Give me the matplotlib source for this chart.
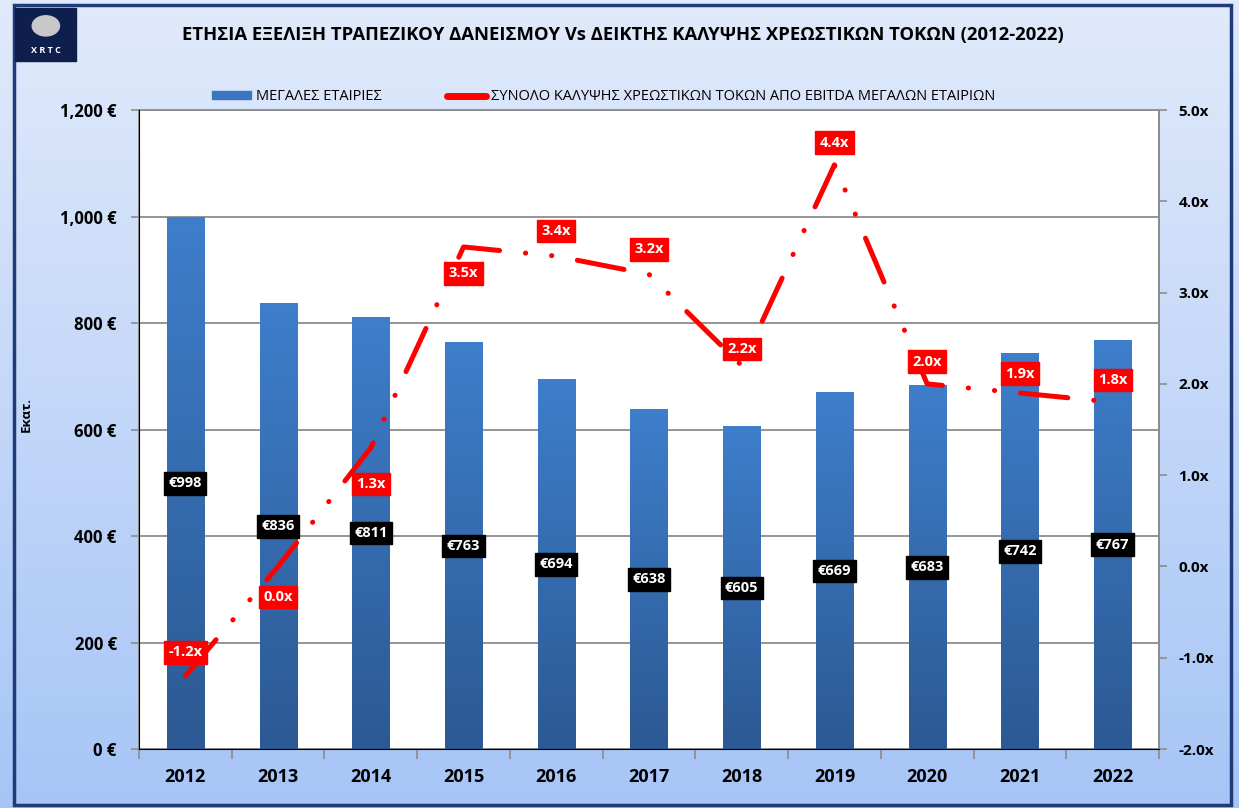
import matplotlib.pyplot as plt
import numpy as np
from matplotlib.colors import LinearSegmentedColormap
from matplotlib.patches import Rectangle, Ellipse
from matplotlib.lines import Line2D
from matplotlib.ticker import FuncFormatter, FixedLocator

plt.rcParams['font.family'] = ['Open Sans', 'DejaVu Sans']

# Data
years = ['2012', '2013', '2014', '2015', '2016', '2017', '2018', '2019', '2020', '2021', '2022']
loans = [998, 836, 811, 763, 694, 638, 605, 669, 683, 742, 767]          # million EUR
coverage = [-1.2, 0.0, 1.3, 3.5, 3.4, 3.2, 2.2, 4.4, 2.0, 1.9, 1.8]      # interest coverage (x)

title = 'ΕΤΗΣΙΑ ΕΞΕΛΙΞΗ ΤΡΑΠΕΖΙΚΟΥ ΔΑΝΕΙΣΜΟΥ Vs ΔΕΙΚΤΗΣ ΚΑΛΥΨΗΣ ΧΡΕΩΣΤΙΚΩΝ ΤΟΚΩΝ (2012-2022)'
bar_name = 'ΜΕΓΑΛΕΣ ΕΤΑΙΡΙΕΣ'
line_name = 'ΣΥΝΟΛΟ ΚΑΛΥΨΗΣ ΧΡΕΩΣΤΙΚΩΝ ΤΟΚΩΝ ΑΠΟ EBITDA ΜΕΓΑΛΩΝ ΕΤΑΙΡΙΩΝ'

# label offsets (points) for the red boxes
label_dy = [17, -22, -26, -19, 18, 18, 12, 16, 16, 14, 16]

fig = plt.figure(figsize=(12.39, 8.08), dpi=100)

# background gradient
bg = fig.add_axes([0, 0, 1, 1], zorder=-10)
bg_cmap = LinearSegmentedColormap.from_list('bg', ['#e1eafb', '#a6c5f6'])
bg.imshow(np.linspace(0, 1, 256).reshape(-1, 1), cmap=bg_cmap, aspect='auto',
          extent=[0, 1, 0, 1], origin='upper')
bg.set_xlim(0, 1)
bg.set_ylim(0, 1)
bg.axis('off')
bg.add_patch(Rectangle((0.0115, 0.004), 0.982, 0.99, fill=False, edgecolor='#1f3b7a', linewidth=2.5))

# logo
bg.add_patch(Rectangle((0.0125, 0.924), 0.049, 0.066, color='#0f1f4d'))
bg.add_patch(Ellipse((0.037, 0.968), 0.022, 0.025, color='#c8c8c8'))
bg.text(0.037, 0.938, 'X R T C', color='white', fontsize=6.5, fontweight='bold', ha='center', va='center')

ax = fig.add_axes([0.1122, 0.0730, 0.8232, 0.7908])
ax2 = ax.twinx()
ax2.set_zorder(ax.get_zorder() + 1)
ax2.patch.set_visible(False)

x = np.arange(len(years))
w = 0.4
bars = ax.bar(x, loans, width=w, color='#3a75c0', zorder=2)

# bar gradient
bar_cmap = LinearSegmentedColormap.from_list('bar', ['#2c5993', '#3e7ecb'])
grad = np.linspace(0, 1, 256).reshape(-1, 1)
for xi, v in zip(x, loans):
    ax.imshow(grad, cmap=bar_cmap, aspect='auto', origin='lower',
              extent=[xi - w / 2, xi + w / 2, 0, v], zorder=3)

ax.set_xlim(-0.5, len(years) - 0.5)
ax.set_ylim(0, 1200)
ax.set_yticks(range(0, 1201, 200))
ax.yaxis.set_major_formatter(FuncFormatter(lambda v, p: f'{int(v):,} €'))
ax.grid(axis='y', color='#8c8c8c', linewidth=1.3, zorder=0)
ax.set_axisbelow(True)
ax.set_xticks(x)
ax.set_xticklabels(years, fontsize=13, fontweight='bold')
ax.xaxis.set_minor_locator(FixedLocator(np.arange(-0.5, len(years), 1)))
ax.tick_params(axis='x', which='major', length=0, pad=14)
ax.tick_params(axis='x', which='minor', length=7, color='#8c8c8c', width=1.2)
ax.tick_params(axis='y', length=6, color='#8c8c8c', width=1.2, pad=10)
for lbl in ax.get_yticklabels():
    lbl.set_fontsize(12)
    lbl.set_fontweight('bold')
ax.set_ylabel('Εκατ.', fontsize=9.5, fontweight='bold')
ax.yaxis.set_label_coords(-0.104, 0.523)
for s in ['left', 'right', 'bottom', 'top']:
    ax.spines[s].set_color('#8c8c8c')
    ax.spines[s].set_linewidth(1.3)
ax2.spines['top'].set_visible(False)
ax2.spines['right'].set_color('#8c8c8c')
ax2.spines['right'].set_linewidth(1.3)

# coverage line
ax2.plot(x, coverage, color='#ff0000', linewidth=3.6, dashes=(9.5, 5.2, 0.05, 5.2, 0.05, 5.2),
         dash_capstyle='round', solid_capstyle='round', zorder=4)
ax2.set_ylim(-2, 5)
ax2.set_yticks(np.arange(-2, 5.01, 1))
ax2.yaxis.set_major_formatter(FuncFormatter(lambda v, p: f'{v:.1f}x'))
ax2.tick_params(axis='y', length=6, color='#8c8c8c', width=1.2, pad=8)
for lbl in ax2.get_yticklabels():
    lbl.set_fontsize(11)
    lbl.set_fontweight('bold')

# bar labels
for xi, v in zip(x, loans):
    ax2.text(xi, v / 2, f'€{v}', transform=ax.transData, ha='center', va='center',
             color='white', fontsize=10.5, fontweight='bold', zorder=6,
             bbox=dict(boxstyle='square,pad=0.3', facecolor='black', edgecolor='black'))

# coverage labels
for xi, v, dy in zip(x, coverage, label_dy):
    ax2.annotate(f'{v:.1f}x', (xi, v), xytext=(0, dy), textcoords='offset points',
                 ha='center', va='center', color='white', fontsize=10.5, fontweight='bold', zorder=7,
                 bbox=dict(boxstyle='square,pad=0.3', facecolor='#ff0000', edgecolor='#ff0000'))

# legend
handles = [Rectangle((0, 0), 1, 1, color='#3a75c0'),
           Line2D([0], [0], color='#ff0000', linewidth=5, solid_capstyle='round')]
fig.legend(handles, [bar_name, line_name], loc='center', bbox_to_anchor=(0.487, 0.880),
           ncol=2, frameon=False, fontsize=10.5, handlelength=2.7, handleheight=0.5,
           columnspacing=4.5, handletextpad=0.3)

fig.text(0.503, 0.957, title, ha='center', va='center', fontsize=13.3, fontweight='bold')

fig.savefig('out.png', dpi=100)
